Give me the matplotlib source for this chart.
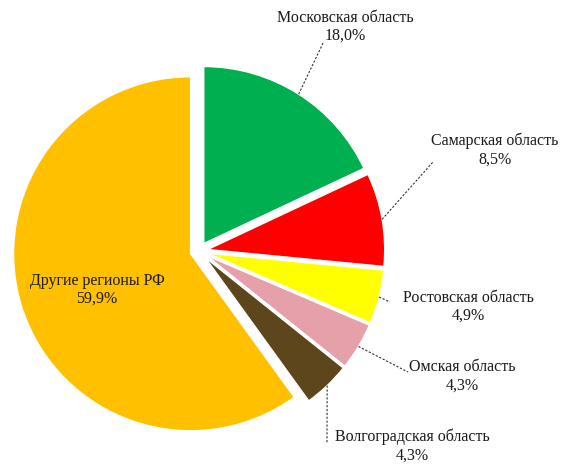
import numpy as np
import matplotlib.pyplot as plt

plt.rcParams['font.family'] = ['Liberation Serif', 'DejaVu Serif']

regions = ["Московская область", "Самарская область", "Ростовская область",
           "Омская область", "Волгоградская область", "Другие регионы РФ"]
shares = [18.0, 8.5, 4.9, 4.3, 4.3, 59.9]
colors = ["#00B050", "#FF0000", "#FFFF00", "#E6A0AA", "#5E461C", "#FFC000"]
explode = [0.05, 0.05, 0.05, 0.05, 0.05, 0.05]

# label centres and leader-line ends (data units, pie radius = 1)
label_pos = [(0.825, 1.266), (1.672, 0.571), (1.52, -0.316), (1.486, -0.706), (1.203, -1.100), (-0.576, -0.22)]
leader_end = [(0.701, 1.175), (1.322, 0.503), (1.079, -0.288), (1.181, -0.684), (0.723, -1.090), None]

fig = plt.figure(figsize=(5.65, 4.65), dpi=100)
ax = fig.add_axes([0, 0, 1, 1])

wedges, _ = ax.pie(shares, colors=colors, explode=explode, startangle=90,
                   counterclock=False, radius=1.0,
                   wedgeprops=dict(edgecolor='white', linewidth=1))

for i, w in enumerate(wedges):
    lab = regions[i] + "\n" + ("%.1f%%" % shares[i]).replace('.', ',')
    ax.text(label_pos[i][0], label_pos[i][1], lab, ha='center', va='center',
            fontsize=11.5, color='#1a1a1a', linespacing=1.2, multialignment='center')
    if leader_end[i] is None:
        continue
    mid = np.deg2rad((w.theta1 + w.theta2) / 2)
    cx, cy = w.center
    sx, sy = cx + w.r * np.cos(mid), cy + w.r * np.sin(mid)
    ax.plot([sx, leader_end[i][0]], [sy, leader_end[i][1]], color='#333333',
            lw=0.8, linestyle=(0, (2, 1.5)))

ax.set_xlim(-199 / 177, 366 / 177)
ax.set_ylim(-214 / 177, 251 / 177)
ax.set_aspect('equal')
ax.axis('off')

plt.savefig("out.png", dpi=100)
